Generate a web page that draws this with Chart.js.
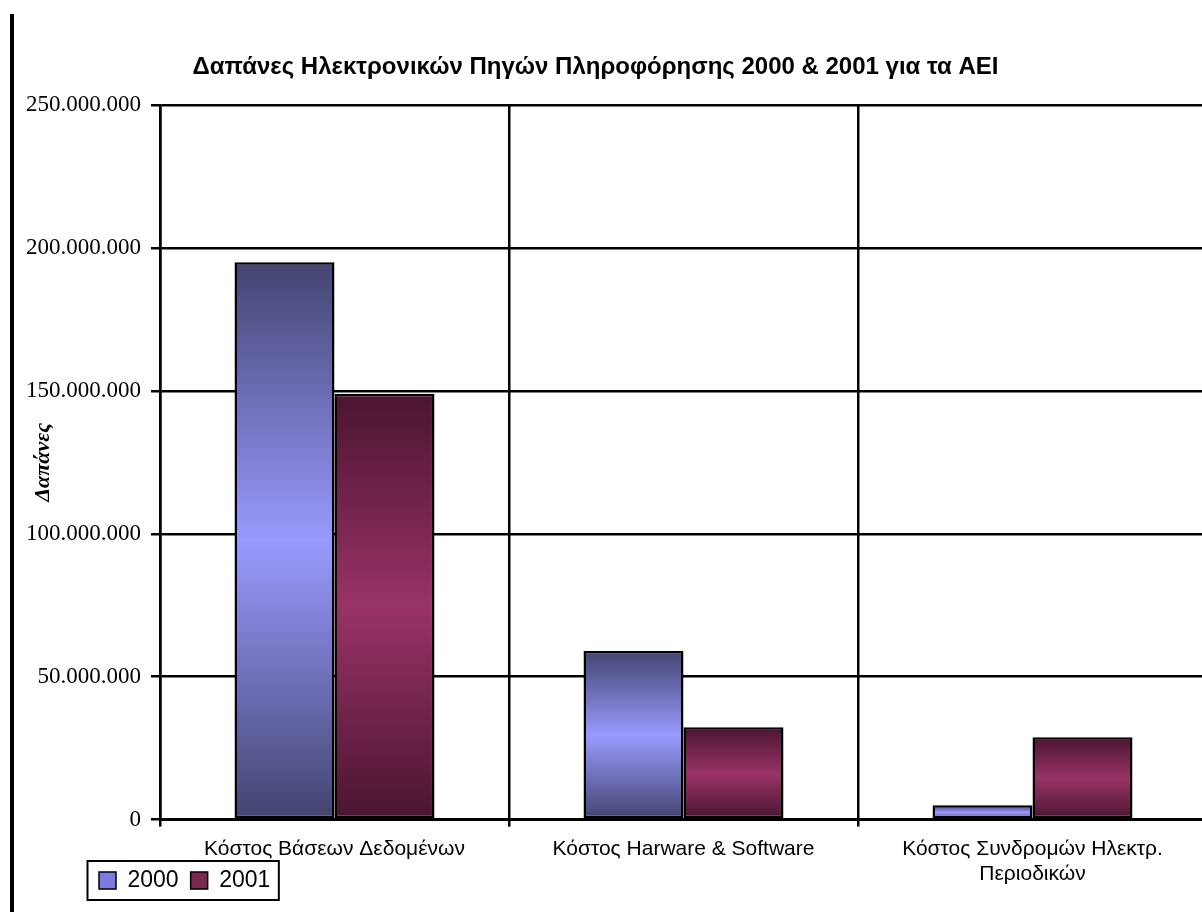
<!DOCTYPE html>
<html>
<head>
<meta charset="utf-8">
<script src="https://cdn.jsdelivr.net/npm/chart.js@4.4.1/dist/chart.umd.min.js"></script>
<style>
  html, body { margin: 0; padding: 0; background: #fff; overflow: hidden; width: 1202px; height: 912px; }
  #wrap { position: absolute; left: 0; top: 0; width: 1212px; height: 912px; }
  #edge { position: absolute; left: 10px; top: 14px; width: 4px; height: 898px; background: #000; }
</style>
</head>
<body>
<div id="wrap"><canvas id="c"></canvas></div>
<div id="edge"></div>
<script>
const categories = [
  'Κόστος Βάσεων Δεδομένων',
  'Κόστος Harware & Software',
  ['Κόστος Συνδρομών Ηλεκτρ.', 'Περιοδικών']
];
const seriesNames = ['2000', '2001'];
const values2000 = [195000000, 59000000, 5000000];
const values2001 = [149000000, 32300000, 28800000];
const yTicks = [0, 50000000, 100000000, 150000000, 200000000, 250000000];

const chartTitle = 'Δαπάνες Ηλεκτρονικών Πηγών Πληροφόρησης 2000 & 2001 για τα ΑΕΙ';
const yTitle = 'Δαπάνες';

const gradColors = [
  { edge: '#434470', mid: '#9a9aff', legend: '#7c7ce0' },
  { edge: '#4a1530', mid: '#993366', legend: '#7a2850' }
];

function barGradient(idx) {
  return function (ctx) {
    const chart = ctx.chart;
    const ys = chart.scales && chart.scales.y;
    if (!chart.chartArea || !ys || ctx.raw === undefined) return gradColors[idx].mid;
    const top = ys.getPixelForValue(ctx.raw);
    const base = ys.getPixelForValue(0);
    if (!isFinite(top) || !isFinite(base) || Math.abs(base - top) < 1) return gradColors[idx].mid;
    const g = chart.ctx.createLinearGradient(0, top, 0, base);
    g.addColorStop(0, gradColors[idx].edge);
    g.addColorStop(0.5, gradColors[idx].mid);
    g.addColorStop(1, gradColors[idx].edge);
    return g;
  };
}

function fmt(v) {
  return String(v).replace(/\B(?=(\d{3})+(?!\d))/g, '.');
}

const legendPlugin = {
  id: 'legendMove',
  beforeDraw(chart) {
    const lg = chart.legend;
    const xs = chart.scales.x;
    if (!lg || !xs) return;
    const h = lg.height;
    const w = lg.width;
    const pad = lg.options.labels.padding;
    const itemH = lg._itemHeight || 23;
    const centerY = xs.top + 61;
    lg.left = 87;
    lg.right = 87 + w;
    lg.top = centerY - pad - itemH / 2;
    lg.bottom = lg.top + h;
  },
  afterDraw(chart) {
    const lg = chart.legend;
    const xs = chart.scales.x;
    if (!lg || !xs) return;
    const pad = lg.options.labels.padding;
    const itemH = lg._itemHeight || 23;
    const cy = lg.top + pad + itemH / 2;
    const bw = pad + lg.lineWidths[0] - 4;
    const ctx = chart.ctx;
    ctx.save();
    ctx.strokeStyle = '#000';
    ctx.lineWidth = 2;
    ctx.strokeRect(lg.left + 0.5, Math.round(cy - 19.5), bw, 39);
    ctx.restore();
  }
};

new Chart(document.getElementById('c'), {
  type: 'bar',
  data: {
    labels: categories,
    datasets: [
      {
        label: seriesNames[0],
        data: values2000,
        backgroundColor: barGradient(0),
        borderColor: '#000',
        borderWidth: 2.5,
        borderSkipped: false,
        barPercentage: 1,
        categoryPercentage: 0.573
      },
      {
        label: seriesNames[1],
        data: values2001,
        backgroundColor: barGradient(1),
        borderColor: '#000',
        borderWidth: 2.5,
        borderSkipped: false,
        barPercentage: 1,
        categoryPercentage: 0.573
      }
    ]
  },
  options: {
    responsive: true,
    maintainAspectRatio: false,
    animation: false,
    layout: { padding: { left: -16, right: 5, top: 0, bottom: -30 } },
    plugins: {
      title: {
        display: true,
        text: chartTitle,
        color: '#000',
        font: { family: '"Liberation Sans", Arial, sans-serif', size: 24, weight: 'bold' },
        padding: { top: 52.6, bottom: 23.6 }
      },
      legend: {
        display: true,
        position: 'bottom',
        align: 'start',
        labels: {
          color: '#000',
          font: { family: '"Liberation Sans", Arial, sans-serif', size: 23 },
          boxWidth: 17,
          boxHeight: 17,
          padding: 12,
          generateLabels(chart) {
            return chart.data.datasets.map((ds, i) => ({
              text: ds.label,
              fillStyle: gradColors[i].legend,
              strokeStyle: '#000',
              lineWidth: 1.5,
              datasetIndex: i,
              hidden: false
            }));
          }
        }
      },
      tooltip: { enabled: false }
    },
    scales: {
      x: {
        grid: {
          display: true,
          offset: true,
          color: '#000',
          lineWidth: 2.5,
          drawTicks: true,
          tickLength: 7,
          tickColor: '#000'
        },
        border: { display: true, color: '#000', width: 3 },
        ticks: {
          color: '#000',
          padding: 10,
          maxRotation: 0,
          autoSkip: false,
          font: { family: '"Liberation Sans", Arial, sans-serif', size: 21 }
        }
      },
      y: {
        min: 0,
        max: 250000000,
        afterFit(scale) { scale.width = 176; },
        afterBuildTicks(scale) { scale.ticks = yTicks.map(v => ({ value: v })); },
        grid: {
          color: '#000',
          lineWidth: 2.5,
          drawTicks: true,
          tickLength: 9,
          tickColor: '#000'
        },
        border: { display: true, color: '#000', width: 2.5 },
        ticks: {
          color: '#000',
          padding: 10,
          font: { family: '"Liberation Serif", "Times New Roman", serif', size: 23 },
          callback: (v) => fmt(v)
        },
        title: {
          display: true,
          text: yTitle,
          color: '#000',
          font: { family: '"Liberation Serif", "Times New Roman", serif', size: 22, weight: 'bold', style: 'italic' },
          padding: { top: 46, bottom: 0 }
        }
      }
    }
  },
  plugins: [legendPlugin]
});
</script>
</body>
</html>
